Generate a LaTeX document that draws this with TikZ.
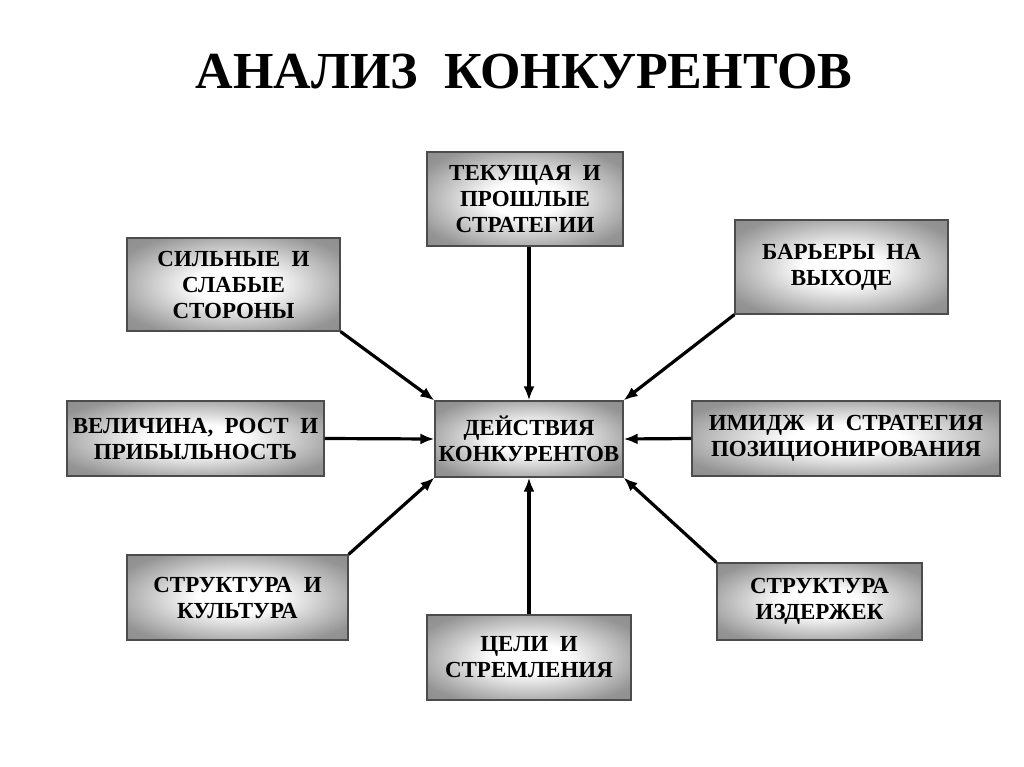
\documentclass[tikz,border=0pt]{standalone}
\usepackage{fontspec}
\setmainfont{Liberation Serif}
\usetikzlibrary{arrows.meta}

\pgfdeclareradialshading{sfumato}{\pgfpoint{0bp}{0bp}}{%
  color(0bp)=(white); color(9bp)=(white); color(30bp)=(black!42); color(50bp)=(black!50)}

\tikzset{
  blocco/.style = {draw = black!70, line width = 1.2pt, shading = sfumato,
    align = center, font = \fontsize{23}{26}\selectfont\bfseries, inner sep = 2pt},
  freccia/.style = {line width = 3.2pt, -{Latex[length = 14pt, width = 11pt]}}
}

\begin{document}
\begin{tikzpicture}[x = 1pt, y = -1pt]
    \useasboundingbox (0,0) rectangle (1024,767);
    % titolo
    \node[font = \fontsize{52}{58}\selectfont\bfseries] (titolo) at (524,72) {АНАЛИЗ\ \ КОНКУРЕНТОВ};
    % blocco centrale
    \node[blocco, minimum width = 188pt, minimum height = 76pt] (azioni) at (529,439) {ДЕЙСТВИЯ\\КОНКУРЕНТОВ};
    % blocchi intorno
    \node[blocco, minimum width = 196pt, minimum height = 94pt] (strategie) at (525,199) {ТЕКУЩАЯ\ \ И\\ПРОШЛЫЕ\\СТРАТЕГИИ};
    \node[blocco, minimum width = 213pt, minimum height = 93pt] (forze) at (233.5,284.5) {СИЛЬНЫЕ\ \ И\\СЛАБЫЕ\\СТОРОНЫ};
    \node[blocco, minimum width = 213pt, minimum height = 94pt] (barriere) at (841.5,267) {БАРЬЕРЫ\ \ НА\\ВЫХОДЕ};
    \node[blocco, minimum width = 257pt, minimum height = 75pt] (crescita) at (195.5,438.5) {ВЕЛИЧИНА,\ \ РОСТ\ \ И\\ПРИБЫЛЬНОСТЬ};
    \node[blocco, minimum width = 308pt, minimum height = 75pt] (immagine) at (846,438.5) {ИМИДЖ\ \ И\ \ СТРАТЕГИЯ\\ПОЗИЦИОНИРОВАНИЯ};
    \node[blocco, minimum width = 221pt, minimum height = 85pt] (cultura) at (237.5,597.5) {СТРУКТУРА\ \ И\\КУЛЬТУРА};
    \node[blocco, minimum width = 204pt, minimum height = 85pt] (obiettivi) at (529,657.5) {ЦЕЛИ\ \ И\\СТРЕМЛЕНИЯ};
    \node[blocco, minimum width = 205pt, minimum height = 77pt] (costi) at (819.5,601.5) {СТРУКТУРА\\ИЗДЕРЖЕК};
    % frecce
    \draw[freccia] (azioni.north |- strategie.south) -- (azioni.north);
    \draw[freccia] (forze.south east) -- (azioni.north west);
    \draw[freccia] (barriere.south west) -- (azioni.north east);
    \draw[freccia] (crescita.east) -- (azioni.west);
    \draw[freccia] (immagine.west) -- (azioni.east);
    \draw[freccia] (cultura.north east) -- (azioni.south west);
    \draw[freccia] (obiettivi.north) -- (azioni.south);
    \draw[freccia] (costi.north west) -- (azioni.south east);
\end{tikzpicture}
\end{document}
